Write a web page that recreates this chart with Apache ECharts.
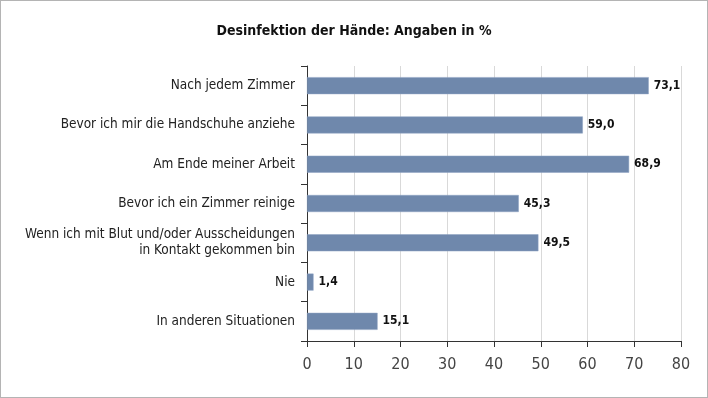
<!DOCTYPE html>
<html>
<head>
<meta charset="utf-8">
<script src="https://cdn.jsdelivr.net/npm/echarts@6/dist/echarts.min.js"></script>
<style>
  html, body { margin: 0; padding: 0; background: #fff; }
  #chart { width: 706px; height: 396px; border: 1px solid #b4b4b4; }
</style>
</head>
<body>
<div id="chart"></div>
<script>
// Desinfektion der Hände – Angaben in %
const categories = [
  'Nach jedem Zimmer',
  'Bevor ich mir die Handschuhe anziehe',
  'Am Ende meiner Arbeit',
  'Bevor ich ein Zimmer reinige',
  'Wenn ich mit Blut und/oder Ausscheidungen\nin Kontakt gekommen bin',
  'Nie',
  'In anderen Situationen'
]
const values = [73.1, 59.0, 68.9, 45.3, 49.5, 1.4, 15.1]
const xTicks = [0, 10, 20, 30, 40, 50, 60, 70, 80]

const font = 'DejaVu Sans Condensed'
const chart = echarts.init(document.getElementById('chart'))

chart.setOption({
  animation: false,
  title: {
    text: 'Desinfektion der Hände: Angaben in %',
    left: 'center',
    top: 18,
    textStyle: { fontFamily: font, fontSize: 14, fontWeight: 'bold', color: '#111' }
  },
  grid: { left: 306, right: 26, top: 65, bottom: 56 },
  xAxis: {
    type: 'value',
    min: xTicks[0],
    max: xTicks[xTicks.length - 1],
    interval: 10,
    axisLine: { show: true, lineStyle: { color: '#333', width: 1 } },
    axisTick: { show: true, length: 6, inside: false, lineStyle: { color: '#333' } },
    splitLine: { show: true, lineStyle: { color: '#d9d9d9' } },
    axisLabel: { fontFamily: font, fontSize: 16, color: '#444', margin: 16 }
  },
  yAxis: {
    type: 'category',
    data: categories,
    inverse: true,
    axisLine: { show: true, lineStyle: { color: '#333' } },
    axisTick: { show: true, length: 6, lineStyle: { color: '#333' } },
    axisLabel: { fontFamily: font, fontSize: 13.5, color: '#222', margin: 12, align: 'right', lineHeight: 16 }
  },
  series: [{
    type: 'bar',
    data: values,
    barWidth: 17,
    itemStyle: { color: '#6f88ac', borderColor: '#8ea3c2', borderWidth: 0.5 },
    label: {
      show: true,
      position: 'right',
      distance: 5,
      fontFamily: font,
      fontSize: 12,
      fontWeight: 'bold',
      color: '#111',
      formatter: p => p.value.toFixed(1).replace('.', ',')
    }
  }]
})
</script>
</body>
</html>
